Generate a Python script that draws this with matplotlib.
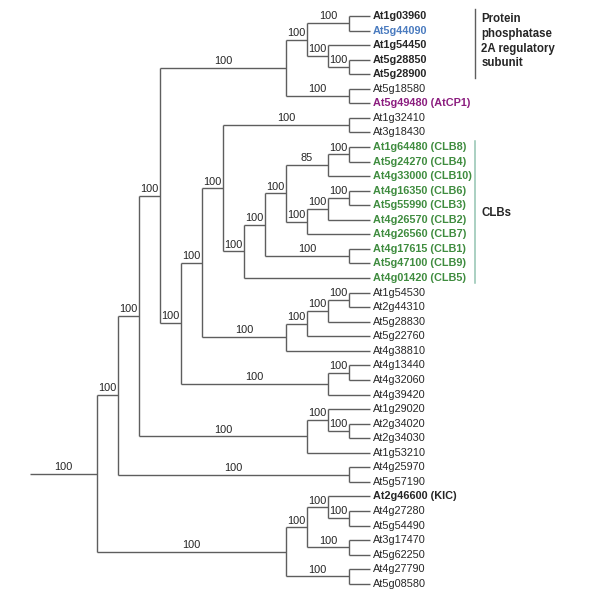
import matplotlib
matplotlib.use("Agg")
import matplotlib.pyplot as plt

plt.rcParams['font.family'] = ['Liberation Sans', 'DejaVu Sans']

# --- data: cladogram (bootstrap support, children...) leaves top -> bottom ---
def N(support, *kids):
    return (support, kids)

tree = N(100,
    N(100,
        N(100,
            N(100,
                N(100,
                    N(100,
                        N(100, "At1g03960", "At5g44090"),
                        N(100, "At1g54450", N(100, "At5g28850", "At5g28900"))),
                    N(100, "At5g18580", "At5g49480 (AtCP1)")),
                N(100,
                    N(100,
                        N(100,
                            N(100, "At1g32410", "At3g18430"),
                            N(100,
                                N(100,
                                    N(100,
                                        N(85, N(100, "At1g64480 (CLB8)", "At5g24270 (CLB4)"),
                                          "At4g33000 (CLB10)"),
                                        N(100, N(100, N(100, "At4g16350 (CLB6)", "At5g55990 (CLB3)"),
                                                 "At4g26570 (CLB2)"),
                                          "At4g26560 (CLB7)")),
                                    N(100, "At4g17615 (CLB1)", "At5g47100 (CLB9)")),
                                "At4g01420 (CLB5)")),
                        N(100,
                            N(100,
                                N(100, N(100, "At1g54530", "At2g44310"), "At5g28830"),
                                "At5g22760"),
                            "At4g38810")),
                    N(100, N(100, "At4g13440", "At4g32060"), "At4g39420"))),
            N(100, N(100, "At1g29020", N(100, "At2g34020", "At2g34030")), "At1g53210")),
        N(100, "At4g25970", "At5g57190")),
    N(100,
        N(100,
            N(100, "At2g46600 (KIC)", N(100, "At4g27280", "At5g54490")),
            N(100, "At3g17470", "At5g62250")),
        N(100, "At4g27790", "At5g08580")))

pp2a_leaves = ["At1g03960", "At5g44090", "At1g54450", "At5g28850", "At5g28900"]
clb_leaves = ["At1g64480 (CLB8)", "At5g24270 (CLB4)", "At4g33000 (CLB10)",
              "At4g16350 (CLB6)", "At5g55990 (CLB3)", "At4g26570 (CLB2)",
              "At4g26560 (CLB7)", "At4g17615 (CLB1)", "At5g47100 (CLB9)",
              "At4g01420 (CLB5)"]
blue_leaves = ["At5g44090"]
purple_leaves = ["At5g49480 (AtCP1)"]
bold_leaves = ["At1g03960", "At1g54450", "At5g28850", "At5g28900", "At2g46600 (KIC)"]
groups = ["Protein\nphosphatase\n2A regulatory\nsubunit", "CLBs"]

LINE = "#5e5e5e"
TEXT = "#262626"
BLUE = "#4a7bbf"
PURPLE = "#8b1d7f"
GREEN = "#3f8c3f"
CLB_BAR = "#93c4b1"

# --- layout: x = -(levels above the tips), y = leaf order ---
leaf_y = {}
segments = []   # (x0, x1, y0, y1)
supports = []   # (x_mid, y, text)


def layout(node):
    if isinstance(node, str):
        leaf_y[node] = len(leaf_y)
        return 0, leaf_y[node]
    support, kids = node
    placed = [layout(k) for k in kids]
    level = max(lv for lv, _ in placed) + 1
    ys = [y for _, y in placed]
    segments.append((-level, -level, ys[0], ys[-1]))
    for k, (lv, y) in zip(kids, placed):
        segments.append((-level, -lv, y, y))
        if not isinstance(k, str):
            supports.append(((-level - lv) / 2, y, str(k[0])))
    return level, (ys[0] + ys[-1]) / 2


root_level, root_y = layout(tree)
stem = 3.2
segments.append((-root_level - stem, -root_level, root_y, root_y))
supports.append((-root_level - stem / 2, root_y, str(tree[0])))

fig = plt.figure(figsize=(6.0, 5.96), dpi=100)
ax = fig.add_axes([0, 0, 1, 1])
ax.set_xlim(-17.62, 10.95)
ax.set_ylim(39.84, -1.10)
ax.axis("off")

for x0, x1, y0, y1 in segments:
    ax.plot([x0, x1], [y0, y1], color=LINE, lw=1.0, solid_capstyle="butt")

for xm, y, s in supports:
    ax.annotate(s, (xm, y), xytext=(0, 1.3), textcoords="offset points",
                ha="center", va="bottom", fontsize=7.9, color=TEXT)

for name, y in leaf_y.items():
    color, weight = TEXT, "normal"
    if name in clb_leaves:
        color, weight = GREEN, "bold"
    elif name in blue_leaves:
        color, weight = BLUE, "bold"
    elif name in purple_leaves:
        color, weight = PURPLE, "bold"
    elif name in bold_leaves:
        weight = "bold"
    ax.annotate(name, (0, y), xytext=(2.2, 0), textcoords="offset points",
                ha="left", va="center", fontsize=7.8, color=color, weight=weight)

# group brackets
bar_x, text_x = 5.0, 5.3
y_top, y_bot = leaf_y[pp2a_leaves[0]], leaf_y[pp2a_leaves[-1]]
ax.plot([bar_x, bar_x], [y_top - 0.45, y_bot + 0.25], color=LINE, lw=1.0)
ax.text(text_x, y_top - 0.2, groups[0], ha="left", va="top", fontsize=8.3,
        weight="bold", color=TEXT, linespacing=1.3)

y_top, y_bot = leaf_y[clb_leaves[0]], leaf_y[clb_leaves[-1]]
ax.plot([bar_x, bar_x], [y_top - 0.4, y_bot + 0.35], color=CLB_BAR, lw=1.1)
ax.text(text_x, (y_top + y_bot) / 2, groups[1], ha="left", va="center",
        fontsize=8.3, weight="bold", color=TEXT)

fig.savefig("out.png", dpi=100)
